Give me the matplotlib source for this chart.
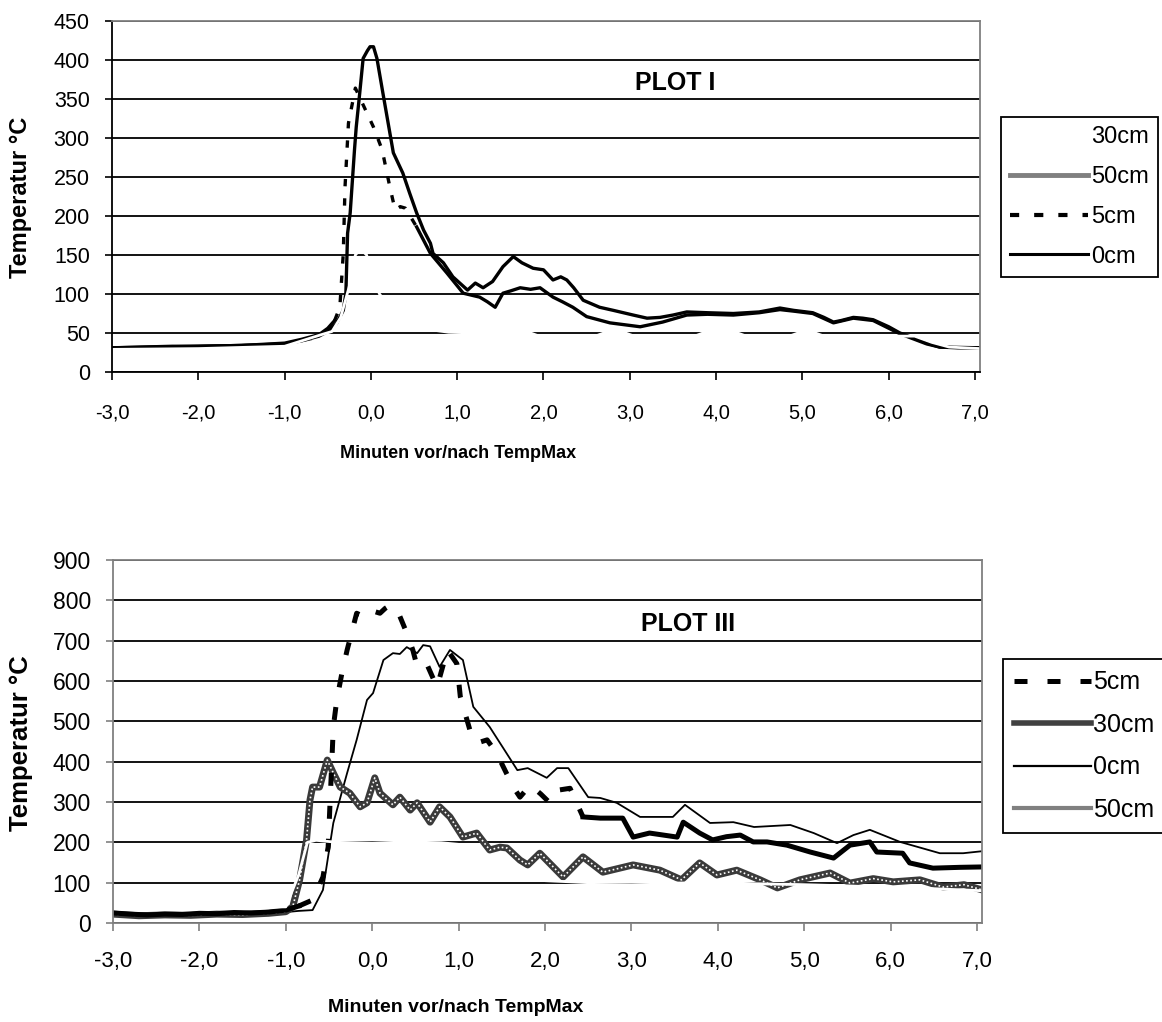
import matplotlib
matplotlib.use("Agg")
import matplotlib.pyplot as plt
from matplotlib.lines import Line2D
from matplotlib.transforms import Bbox, TransformedBbox

plt.rcParams['font.family'] = ['Liberation Sans', 'DejaVu Sans']

# ---------------- PLOT I (Temperatur in °C, Minuten vor/nach TempMax) ----------------
p1_x_0cm = [-3.0, -2.3, -2.0, -1.5, -1.0, -0.8, -0.6, -0.5, -0.4, -0.32, -0.29, -0.27, -0.24, -0.19,
            -0.17, -0.13, -0.09, -0.04, -0.01, 0.03, 0.07, 0.14, 0.26, 0.37, 0.45, 0.53, 0.61, 0.69,
            0.72, 0.84, 0.95, 1.12, 1.21, 1.30, 1.41, 1.53, 1.65, 1.75, 1.88, 2.0, 2.11, 2.2, 2.27,
            2.35, 2.46, 2.65, 2.81, 3.04, 3.20, 3.35, 3.5, 3.66, 3.9, 4.2, 4.5, 4.74, 4.9, 5.12, 5.25,
            5.36, 5.45, 5.59, 5.7, 5.82, 6.0, 6.13, 6.3, 6.44, 6.59, 6.8, 7.06]
p1_y_0cm = [31, 33, 33, 34, 36, 40, 46, 52, 62, 79, 101, 178, 204, 285,
            314, 357, 402, 412, 417, 417, 402, 357, 281, 255, 229, 204, 182, 165,
            152, 140, 122, 105, 114, 108, 116, 135, 148, 140, 133, 131, 118, 122, 118,
            108, 92, 83, 79, 73, 69, 70, 73, 77, 76, 75, 77, 82, 79, 76, 70,
            64, 66, 70, 69, 67, 58, 50, 43, 37, 32, 31, 31]

p1_x_5cm = [-3.0, -2.5, -2.0, -1.5, -1.0, -0.8, -0.6, -0.5, -0.42, -0.36, -0.32, -0.30, -0.26, -0.18,
            -0.13, -0.05, 0.03, 0.13, 0.22, 0.28, 0.34, 0.40, 0.53, 0.69, 0.88, 1.07, 1.26, 1.35,
            1.44, 1.53, 1.62, 1.73, 1.85, 1.96, 2.11, 2.22, 2.34, 2.50, 2.77, 3.12, 3.38, 3.66,
            3.9, 4.2, 4.5, 4.74, 4.9, 5.12, 5.36, 5.59, 5.82, 6.13, 6.44, 6.59, 7.06]
p1_y_5cm = [31, 32, 33, 34, 37, 42, 48, 56, 66, 83, 152, 237, 319, 364,
            352, 333, 314, 285, 237, 208, 212, 210, 186, 152, 127, 101, 96, 90,
            83, 101, 104, 108, 106, 108, 96, 90, 83, 71, 63, 58, 64, 73,
            74, 73, 76, 80, 78, 75, 63, 69, 66, 49, 36, 32, 31]

p1_x_30cm = [-3.0, -2.0, -1.0, -0.8, -0.6, -0.45, -0.35, -0.25, -0.18, -0.12, -0.05, 0.02, 0.1,
             0.2, 0.35, 0.5, 0.7, 0.9, 1.2, 1.85, 1.95, 2.6, 2.7, 2.95, 3.05, 3.75, 3.85, 4.25,
             4.35, 4.85, 4.95, 5.15, 5.25, 6.3, 6.5, 6.7, 7.06]
p1_y_30cm = [29, 30, 33, 40, 47, 52, 70, 110, 150, 158, 150, 120, 100,
             85, 70, 60, 54, 51, 50, 50, 46, 46, 50, 50, 46, 46, 50, 50,
             46, 46, 50, 50, 46, 46, 38, 32, 30]

p1_x_50cm = [-3.0, -2.0, -1.0, -0.7]
p1_y_50cm = [31, 33, 36, 42]

# ---------------- PLOT III ----------------
p3_x_5cm = [-3.0, -2.8, -2.6, -2.4, -2.2, -2.0, -1.8, -1.6, -1.4, -1.2, -1.0, -0.85, -0.69, -0.57,
            -0.51, -0.45, -0.41, -0.35, -0.29, -0.18, -0.10, -0.03, 0.09, 0.15, 0.21, 0.29, 0.40,
            0.47, 0.52, 0.63, 0.75, 0.87, 0.98, 1.02, 1.13, 1.21, 1.33, 1.44, 1.63, 1.71, 1.83,
            1.95, 2.06, 2.17, 2.29, 2.44, 2.64, 2.90, 3.02, 3.21, 3.53, 3.60, 3.79, 3.94, 4.10,
            4.26, 4.41, 4.57, 4.80, 5.07, 5.34, 5.53, 5.76, 5.84, 6.14, 6.22, 6.49, 6.8, 7.06]
p3_y_5cm = [25, 22, 20, 22, 21, 24, 23, 26, 25, 27, 32, 42, 57, 114,
            188, 486, 553, 620, 677, 768, 760, 776, 768, 780, 788, 776, 719,
            677, 636, 643, 585, 677, 643, 561, 479, 446, 454, 421, 338, 312, 342,
            320, 297, 330, 334, 263, 260, 260, 213, 223, 213, 250, 223, 206, 214,
            218, 201, 201, 193, 176, 161, 193, 201, 176, 173, 149, 136, 138, 139]

p3_x_0cm = [-3.0, -2.6, -2.2, -1.8, -1.4, -1.0, -0.85, -0.69, -0.57, -0.45, -0.29, -0.18, -0.06,
            0.01, 0.13, 0.24, 0.32, 0.40, 0.52, 0.59, 0.67, 0.78, 0.90, 1.05, 1.17, 1.36, 1.51,
            1.68, 1.80, 2.02, 2.14, 2.27, 2.50, 2.64, 2.83, 3.10, 3.33, 3.48, 3.62, 3.91, 4.18,
            4.42, 4.84, 5.11, 5.38, 5.57, 5.76, 6.11, 6.57, 6.84, 7.06]
p3_y_0cm = [22, 21, 20, 22, 24, 27, 30, 32, 82, 248, 372, 454, 553,
            570, 652, 669, 667, 684, 669, 689, 686, 635, 677, 652, 536, 486, 436,
            379, 384, 360, 384, 384, 312, 310, 298, 263, 263, 263, 293, 248, 250,
            238, 243, 223, 198, 218, 231, 201, 173, 173, 178]

p3_x_30cm = [-3.0, -2.7, -2.4, -2.1, -1.8, -1.5, -1.2, -1.0, -0.92, -0.84, -0.76, -0.72, -0.69,
             -0.61, -0.52, -0.45, -0.37, -0.26, -0.14, -0.06, 0.03, 0.09, 0.24, 0.32, 0.44, 0.52,
             0.67, 0.78, 0.90, 1.05, 1.21, 1.36, 1.48, 1.56, 1.71, 1.80, 1.94, 2.21, 2.44, 2.67,
             3.02, 3.33, 3.58, 3.79, 3.99, 4.22, 4.49, 4.69, 4.95, 5.30, 5.53, 5.80, 6.03, 6.34,
             6.61, 6.85, 7.06]
p3_y_30cm = [22, 18, 20, 19, 22, 21, 24, 28, 40, 107, 206, 305, 337,
             337, 404, 372, 337, 322, 288, 298, 360, 322, 293, 312, 280, 298,
             250, 288, 263, 213, 223, 181, 188, 186, 156, 144, 173, 114, 164, 126,
             144, 131, 107, 149, 119, 131, 107, 87, 107, 124, 99, 110, 102, 107,
             89, 95, 82]

p3_x_50cm = [-3.0, -2.5, -2.0, -1.5, -1.0, -0.85, -0.75, -0.65, -0.4, 0.0, 0.4, 0.8, 1.0, 1.3,
             1.6, 2.0, 2.5, 3.0, 3.5, 4.0, 4.5, 5.0, 5.5, 6.0, 6.5, 7.06]
p3_y_50cm = [36, 38, 37, 39, 40, 120, 200, 205, 200, 198, 201, 199, 195, 170,
             140, 105, 100, 101, 99, 100, 97, 95, 92, 88, 85, 80]

x_ticks = [-3, -2, -1, 0, 1, 2, 3, 4, 5, 6, 7]
x_ticklabels = [f"{v:.1f}".replace('.', ',') for v in x_ticks]

W, H = 1162, 1022
fig = plt.figure(figsize=(W / 100, H / 100), dpi=100)

GRAY = '#808080'
DASH1 = (0, (2.2, 3.6))
DASH3 = (0, (2.6, 4.0))


def style_axes(ax, ymax, ystep, left_col, tick_col, xsize, ysize, xpad):
    ax.set_xlim(-3, 7.058)
    ax.set_ylim(0, ymax)
    ax.set_xticks(x_ticks)
    ax.set_xticklabels(x_ticklabels)
    ax.set_yticks(range(0, ymax + 1, ystep))
    ax.yaxis.grid(True, color='black', linewidth=1.3)
    ax.set_axisbelow(True)
    for s in ['top', 'right']:
        ax.spines[s].set_color(GRAY)
        ax.spines[s].set_linewidth(1.3)
    for s in ['left', 'bottom']:
        ax.spines[s].set_color(left_col)
        ax.spines[s].set_linewidth(1.3)
    ax.tick_params(axis='x', direction='out', length=6, width=1.2, color=tick_col,
                   labelsize=xsize, pad=xpad)
    ax.tick_params(axis='y', direction='out', length=5, width=1.2, color=tick_col,
                   labelsize=ysize, pad=11)


def dashed_between(ax, xs, ys, lo, hi, color, lw, ls):
    # steile Abschnitte gestrichelt, flache Abschnitte wirken im Original durchgezogen
    i0 = xs.index(lo)
    i1 = xs.index(hi)
    ax.plot(xs[:i0 + 1], ys[:i0 + 1], color=color, lw=lw)
    ax.plot(xs[i0:i1 + 1], ys[i0:i1 + 1], color=color, lw=lw, ls=ls)
    ax.plot(xs[i1:], ys[i1:], color=color, lw=lw)


# ---------------- top chart ----------------
ax1 = fig.add_axes([112 / W, 1 - 372 / H, 868 / W, 351 / H])
style_axes(ax1, 450, 50, 'black', 'black', 14.5, 15.5, 17)
ax1.plot(p1_x_50cm, p1_y_50cm, color=GRAY, lw=2)
ax1.plot(p1_x_0cm, p1_y_0cm, color='black', lw=2.4)
dashed_between(ax1, p1_x_5cm, p1_y_5cm, -0.42, 0.53, 'black', 2.4, DASH1)
ax1.plot(p1_x_30cm, p1_y_30cm, color='white', lw=2)
ax1.text(3.53, 370, 'PLOT I', ha='center', va='center', fontsize=18, fontweight='bold')

h1 = [Line2D([], [], color='white', lw=2),
      Line2D([], [], color=GRAY, lw=3.5),
      Line2D([], [], color='black', lw=3, ls=DASH1),
      Line2D([], [], color='black', lw=2.2)]
leg1 = fig.legend(h1, ['30cm', '50cm', '5cm', '0cm'], loc='upper left',
                  bbox_to_anchor=(1001 / W, 1 - 117 / H), borderaxespad=0, fontsize=17,
                  handlelength=3.3, handletextpad=0.1, labelspacing=0.75, borderpad=0.4,
                  fancybox=False, framealpha=1, edgecolor='black')
leg1.get_frame().set_linewidth(1.3)

fig.text(458 / W, 1 - 453 / H, 'Minuten vor/nach TempMax', ha='center', va='center',
         fontsize=13, fontweight='bold')
fig.text(21 / W, 1 - 197 / H, 'Temperatur °C', ha='center', va='center', rotation=90,
         fontsize=17, fontweight='bold')

# ---------------- bottom chart ----------------
ax2 = fig.add_axes([113 / W, 1 - 923 / H, 869 / W, 363 / H])
style_axes(ax2, 900, 100, GRAY, GRAY, 16, 16.5, 14)
ax2.plot(p3_x_0cm, p3_y_0cm, color='black', lw=1.3)
ax2.plot(p3_x_30cm, p3_y_30cm, color='#3a3a3a', lw=5)
ax2.plot(p3_x_30cm, p3_y_30cm, color='white', lw=1.2, ls=(0, (1, 1.5)))
dashed_between(ax2, p3_x_5cm, p3_y_5cm, -0.85, 2.44, 'black', 3.6, DASH3)
ax2.plot(p3_x_50cm, p3_y_50cm, color='white', lw=2)
t3 = ax2.text(3.655, 741, 'PLOT III', ha='center', va='center', fontsize=18, fontweight='bold')
t3.set_clip_box(TransformedBbox(Bbox([[-3, 722], [7.058, 900]]), ax2.transData))
t3.set_clip_on(True)

h3 = [Line2D([], [], color='black', lw=3.6, ls=DASH3),
      Line2D([], [], color='#404040', lw=4),
      Line2D([], [], color='black', lw=1.6),
      Line2D([], [], color=GRAY, lw=3)]
leg3 = fig.legend(h3, ['5cm', '30cm', '0cm', '50cm'], loc='upper left',
                  bbox_to_anchor=(1003 / W, 1 - 659 / H), borderaxespad=0, fontsize=18,
                  handlelength=3.05, handletextpad=0.1, labelspacing=0.74, borderpad=0.45,
                  fancybox=False, framealpha=1, edgecolor='black')
leg3.get_frame().set_linewidth(1.3)

fig.text(456 / W, 1 - 1008 / H, 'Minuten vor/nach TempMax', ha='center', va='center',
         fontsize=14, fontweight='bold')
fig.text(21 / W, 1 - 743 / H, 'Temperatur °C', ha='center', va='center', rotation=90,
         fontsize=18.5, fontweight='bold')

fig.savefig('out.png', dpi=100)
